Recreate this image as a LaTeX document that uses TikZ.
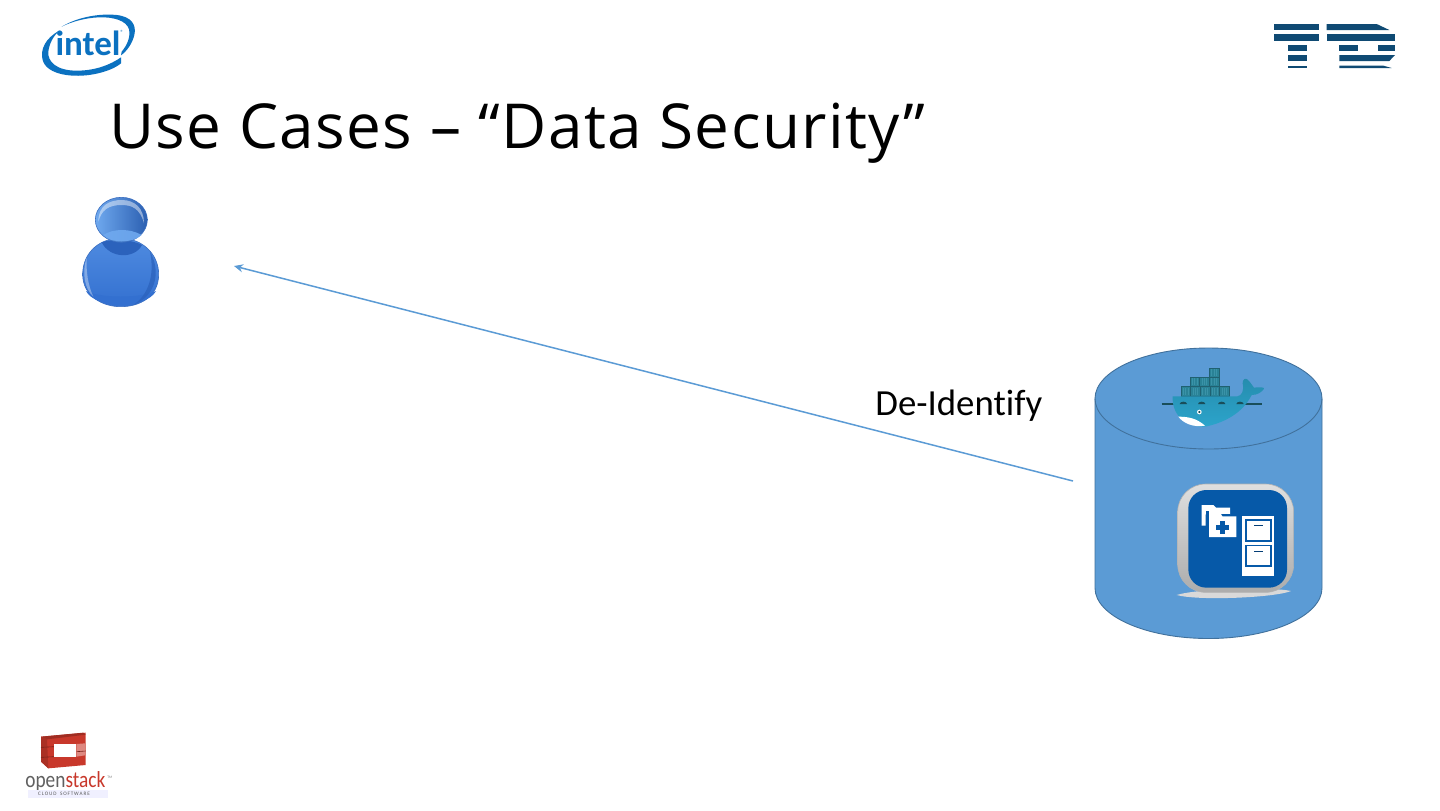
\documentclass[tikz,border=0pt]{standalone}
\usepackage{fontspec}
\setmainfont[Ligatures=NoCommon]{Carlito}
\newfontfamily\titlefont[LetterSpace=2.3]{Open Sans}
\newfontfamily\oscond[FakeStretch=0.84]{Carlito}
\usetikzlibrary{arrows.meta,shapes.geometric}
\definecolor{cylblue}{HTML}{5B9BD5}
\definecolor{cyledge}{HTML}{41719C}
\definecolor{intelblue}{HTML}{0B71C0}
\definecolor{tdblue}{HTML}{0F4A73}
\definecolor{iconblue}{HTML}{0659A8}
\definecolor{osred}{HTML}{C8382B}
\definecolor{dockdark}{HTML}{2A8296}
\definecolor{docklight}{HTML}{3A93A8}
\definecolor{whale}{HTML}{2CA5CC}
\definecolor{personedge}{HTML}{3A6EC0}
\definecolor{personlight}{HTML}{6FA9EF}
\definecolor{personmid}{HTML}{4F8BE0}
\definecolor{persondark}{HTML}{3370D0}
\definecolor{personshadow}{HTML}{2B62BC}
\tikzset{
  labeltext/.style={inner sep=0pt,font=\fontsize{18.4}{21}\selectfont,text=black},
  titletext/.style={inner sep=0pt,anchor=base west,font=\titlefont\fontsize{31}{36}\selectfont,text=black},
  connector/.style={draw=cylblue,line width=0.75pt,-{Stealth[length=4.5pt,width=4pt]}},
  tdbar/.style={fill=tdblue,draw=none},
  box/.style={fill=dockdark,draw=dockdark!75!black,line width=0.2pt},
  whitefill/.style={fill=white,draw=none}
}
\begin{document}
\begin{tikzpicture}[x=0.5pt,y=-0.5pt]
\useasboundingbox (0,0) rectangle (1440,810);
\fill[white] (0,0) rectangle (1440,810);

% title
\node[titletext] (title) at (109,148) {Use Cases – “Data Security”};

% cylinder
\path[fill=cylblue,draw=cyledge,line width=0.45pt]
  (1095,398.5) -- (1095,588) arc[start angle=180,end angle=0,x radius=113.5,y radius=50.5] -- (1322,398.5)
  arc[start angle=0,end angle=-180,x radius=113.5,y radius=50.5] -- cycle;
\draw[cyledge,line width=0.45pt] (1095,398.5) arc[start angle=180,end angle=0,x radius=113.5,y radius=50.5];
\node[inner sep=0pt,minimum width=1pt] (cylinder) at (1208.5,493) {};

% user
\begin{scope}[shift={(60,185)},scale=1/3]
  \shade[top color=personmid,middle color=personlight,bottom color=persondark,draw=personedge,line width=0.3pt]
    (182,160) .. controls (110,160) and (68,210) .. (68,268) .. controls (68,335) and (130,365) .. (182,365)
    .. controls (240,365) and (296,335) .. (296,268) .. controls (296,210) and (250,160) .. (182,160) -- cycle;
  \fill[persondark] (78,318) .. controls (120,340) and (245,340) .. (288,318) .. controls (260,372) and (105,372) .. (78,318) -- cycle;
  \fill[personshadow,opacity=.75] (270,200) .. controls (300,250) and (295,330) .. (220,360) .. controls (265,330) and (285,270) .. (270,200) -- cycle;
  \fill[personshadow] (125,172) .. controls (150,162) and (215,162) .. (246,180) .. controls (225,222) and (150,222) .. (125,172) -- cycle;
  \fill[white,opacity=.35] (80,218) .. controls (66,260) and (72,310) .. (100,335) .. controls (84,300) and (78,260) .. (80,218) -- cycle;
  \shade[left color=personlight,right color=persondark!85!black,draw=personedge,line width=0.3pt]
    (184,104.5) ellipse[x radius=78,y radius=67.5];
  \fill[white,opacity=.45] (115,110) .. controls (115,60) and (150,45) .. (185,45) .. controls (225,45) and (252,70) .. (252,115)
    .. controls (240,70) and (215,60) .. (185,60) .. controls (145,60) and (125,75) .. (115,110) -- cycle;
  \fill[personlight,opacity=.9] (130,150) .. controls (160,130) and (210,130) .. (245,150) .. controls (220,175) and (150,175) .. (130,150) -- cycle;
\end{scope}
\node[inner sep=0pt,minimum size=1pt] (user) at (121,250) {};
\coordinate (arrowhead) at (234,266);
\coordinate (arrowtail) at (1073,481);
\draw[connector] (arrowtail) -- (arrowhead);

% label
\node[labeltext,anchor=base west] (deid) at (875,415) {De-Identify};

% intel logo
\begin{scope}[shift={(20,0)},scale=1/3]
  \fill[intelblue] (118,92) .. controls (75,115) and (60,150) .. (68,180) .. controls (80,225) and (160,235) .. (225,222)
    .. controls (255,216) and (285,205) .. (303,190) -- (303,172) .. controls (270,195) and (225,212) .. (170,212)
    .. controls (110,212) and (82,185) .. (85,155) .. controls (88,130) and (100,108) .. (118,92) -- cycle;
  \fill[intelblue] (125,80) .. controls (175,50) and (240,40) .. (290,45) .. controls (335,50) and (350,75) .. (343,105)
    .. controls (337,130) and (322,152) .. (303,166) -- (305,155) .. controls (322,135) and (332,110) .. (327,88)
    .. controls (320,62) and (280,50) .. (235,52) .. controls (195,54) and (155,65) .. (125,80) -- cycle;
\end{scope}
\node[inner sep=0pt,anchor=base,text=intelblue,font=\bfseries\fontsize{17.5}{20}\selectfont] (intel) at (88,55) {intel};
\node[inner sep=0pt,text=intelblue,font=\fontsize{3}{4}\selectfont] (intelreg) at (122,32) {®};

% TD logo
\begin{scope}[shift={(1260,10)},scale=1/3]
  \fill[tdbar] (43,42) rectangle (178,60);
  \fill[tdbar] (43,72) rectangle (178,92);
  \fill[tdbar] (85,105) rectangle (140,122);
  \fill[tdbar] (85,135) rectangle (140,153);
  \fill[tdbar] (85,167) rectangle (140,174);
  \fill[tdbar] (200,42) -- (350,42) -- (388,60) -- (200,60) -- cycle;
  \fill[tdbar] (200,72) rectangle (405,92);
  \fill[tdbar] (238,105) rectangle (295,122);
  \fill[tdbar] (355,105) rectangle (405,122);
  \fill[tdbar] (238,135) -- (405,135) -- (388,153) -- (238,153) -- cycle;
  \fill[tdbar] (238,167) -- (370,167) -- (395,174) -- (238,174) -- cycle;
\end{scope}

% docker whale
\begin{scope}[shift={(1150,355)},scale=1/3]
  \draw[dockdark!60!black,line width=0.7pt] (35,147) -- (335,147);
  \foreach \bx/\by in {178/39,
     120/67,149/67,178/67,
     93/95,122/95,151/95,180/95,209/95}{
    \fill[box] (\bx,\by) rectangle +(29,28);
    \foreach \k in {7,14,21}{\draw[docklight,line width=0.2pt] (\bx+\k,\by+3) -- (\bx+\k,\by+24);}
  }
  \shade[top color=whale!85!black,bottom color=whale] (68,124) -- (262,124) .. controls (275,122) and (283,108) .. (278,85)
    .. controls (278,72) and (286,68) .. (293,74) .. controls (302,82) and (305,90) .. (312,98) .. controls (325,96) and (338,96) .. (343,100)
    .. controls (335,112) and (322,120) .. (305,120) .. controls (290,150) and (255,195) .. (170,214)
    .. controls (120,220) and (65,190) .. (68,124) -- cycle;
  \fill[white] (85,185) .. controls (115,185) and (140,190) .. (165,212) .. controls (130,218) and (100,205) .. (85,185) -- cycle;
  \fill[white] (148,171) circle[radius=7];
  \fill[dockdark!60!black] (148,171) circle[radius=3.5];
  \foreach \wx in {100,155,215,270}{
    \fill[dockdark!60!black] (\wx-11,147) arc[start angle=180,end angle=360,x radius=11,y radius=7] -- cycle;
  }
\end{scope}

% filing icon
\begin{scope}[shift={(1165,475)},scale=1/3]
  \fill[gray!30!white] (35,360) .. controls (100,340) and (320,335) .. (378,348) .. controls (330,368) and (100,378) .. (35,360) -- cycle;
  \path[top color=gray!25,bottom color=gray!65,draw=gray!60,line width=0.3pt,rounded corners=14pt] (38,27) rectangle (386,352);
  \fill[iconblue,rounded corners=9pt] (70,45) rectangle (366,338);
  \fill[whitefill] (110,90) -- (145,90) -- (153,98) -- (195,98) -- (195,118) -- (122,118) -- (122,152) -- (110,152) -- cycle;
  \fill[iconblue] (122,108) rectangle (132,192);
  \fill[iconblue] (122,118) -- (195,118) -- (195,124) -- (122,124) -- cycle;
  \fill[whitefill] (132,112) -- (165,112) -- (172,124) -- (214,124) -- (214,186) -- (132,186) -- cycle;
  \fill[iconblue] (166,138) rectangle (180,178);
  \fill[iconblue] (153,151) rectangle (193,165);
  \fill[whitefill] (232,124) rectangle (326,304);
  \fill[iconblue] (241,133) rectangle (321,200);
  \fill[white] (246,138) rectangle (316,195);
  \fill[iconblue] (241,209) rectangle (321,276);
  \fill[white] (246,214) rectangle (316,271);
  \fill[iconblue!70!black] (267,149) rectangle (293,154);
  \fill[iconblue!70!black] (267,227) rectangle (293,232);
\end{scope}

% openstack logo
\begin{scope}[shift={(15,720)},scale=1/3]
  \fill[osred] (78,50) -- (212,38) -- (212,135) -- (100,145) -- (78,125) -- cycle;
  \fill[osred!80!black] (78,50) -- (205,38) -- (212,44) -- (96,58) -- cycle;
  \fill[osred!85!black] (78,50) -- (96,58) -- (100,145) -- (78,125) -- cycle;
  \fill[osred!60!white] (184,72) -- (210,70) -- (210,106) -- (184,110) -- cycle;
  \draw[osred!60!black,line width=0.3pt] (78,82) -- (118,80) (78,112) -- (118,110) (185,95) -- (212,93);
  \fill[white] (118,72) -- (184,72) -- (184,112) -- (118,112) -- cycle;
\end{scope}
\node[inner sep=0pt,anchor=base west,font=\oscond\fontsize{11.5}{13}\selectfont] (openstack) at (25,787) {\textcolor{gray!75!black}{open}\textcolor{osred}{stack}};
\fill[blue!6] (28,790) rectangle (108,798);
\node[inner sep=0pt,anchor=base west,text=gray,font=\fontsize{1.8}{2}\selectfont] (ostm) at (107,778) {TM};
\node[inner sep=0pt,anchor=center,text=gray!70!black,font=\fontsize{2.6}{3}\selectfont,text width=34pt,align=center] (cloud) at (64,794) {C\,L\,O\,U\,D\ \ S\,O\,F\,T\,W\,A\,R\,E};
\end{tikzpicture}
\end{document}
